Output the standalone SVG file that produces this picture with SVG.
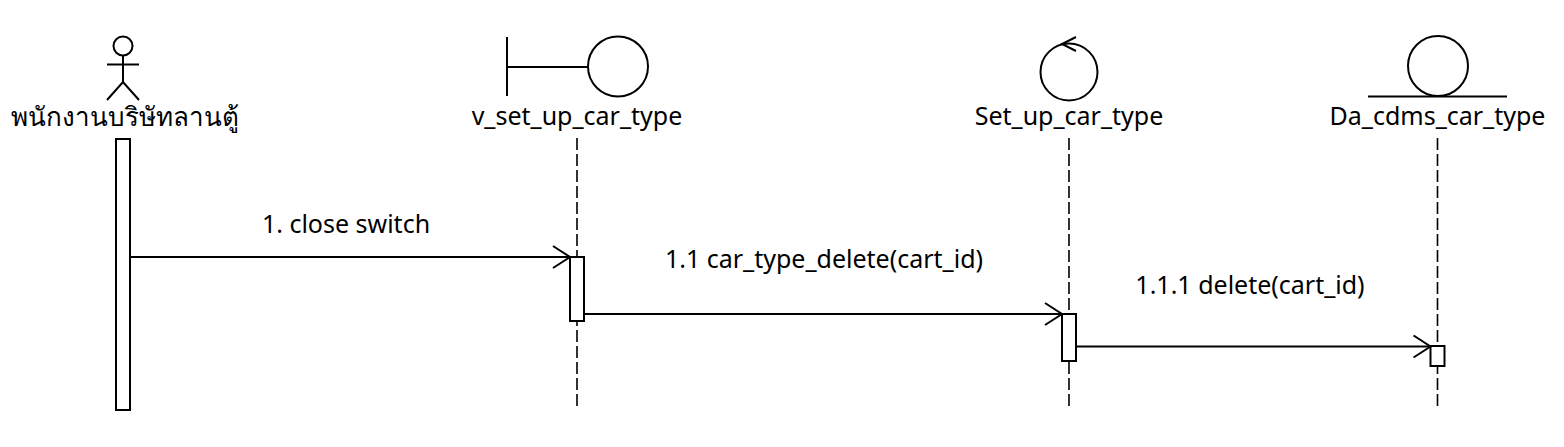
<svg xmlns="http://www.w3.org/2000/svg" width="1564" height="447" viewBox="0 0 1564 447">
<style>
.s{fill:none;stroke:#000;stroke-width:2}
.b{fill:#fff;stroke:#000;stroke-width:2}
.life{stroke:#000;stroke-width:1.6;stroke-dasharray:12,4;fill:none}
.t{font-family:"Noto Sans","DejaVu Sans","Noto Sans CJK SC",sans-serif;font-size:25px;fill:#000;text-anchor:middle}
.th{font-size:26px}
</style>
<defs>
<marker id="arr" viewBox="0 0 20 24" refX="18" refY="12" markerWidth="20" markerHeight="24" markerUnits="userSpaceOnUse" orient="auto">
<path d="M1,1 L18,12 L1,23" fill="none" stroke="#000" stroke-width="2"/>
</marker>
</defs>
<rect width="1564" height="447" fill="#fff"/>
<g id="actor">
<circle class="s" cx="123" cy="46" r="9.5"/>
<line class="s" x1="123" y1="55.5" x2="123" y2="82"/>
<line class="s" x1="107" y1="64.5" x2="139" y2="64.5"/>
<path class="s" d="M107,100 L123,82 L139,100"/>
<text class="t th" x="125" y="126">พนักงานบริษัทลานตู้</text>
<rect class="b" x="116" y="139" width="14" height="271"/>
</g>
<g id="boundary">
<line class="s" x1="507" y1="37" x2="507" y2="96"/>
<line class="s" x1="507" y1="67" x2="588" y2="67"/>
<circle class="s" cx="618" cy="66.5" r="30"/>
<text class="t" x="577" y="125">v_set_up_car_type</text>
<line class="life" x1="577" y1="138" x2="577" y2="410"/>
<rect class="b" x="570" y="257" width="14" height="64"/>
</g>
<g id="control">
<circle class="s" cx="1069" cy="72" r="28.5"/>
<path class="s" d="M1076,37 L1062,44 L1076,51"/>
<text class="t" x="1069" y="125">Set_up_car_type</text>
<line class="life" x1="1069" y1="138" x2="1069" y2="410"/>
<rect class="b" x="1062" y="314" width="14" height="47"/>
</g>
<g id="entity">
<circle class="s" cx="1438" cy="66" r="30"/>
<line class="s" x1="1368" y1="96.5" x2="1507" y2="96.5"/>
<text class="t" x="1437.5" y="125">Da_cdms_car_type</text>
<line class="life" x1="1437.5" y1="138" x2="1437.5" y2="410"/>
<rect class="b" x="1430.5" y="346" width="14" height="20"/>
</g>
<g id="connectors">
<line class="s" x1="130" y1="257" x2="570" y2="257" marker-end="url(#arr)"/>
<text class="t" x="346" y="233">1. close switch</text>
<line class="s" x1="584" y1="314" x2="1062" y2="314" marker-end="url(#arr)"/>
<text class="t" x="824" y="268">1.1 car_type_delete(cart_id)</text>
<line class="s" x1="1076" y1="346.5" x2="1430.5" y2="346.5" marker-end="url(#arr)"/>
<text class="t" x="1250" y="294">1.1.1 delete(cart_id)</text>
</g>
</svg>
